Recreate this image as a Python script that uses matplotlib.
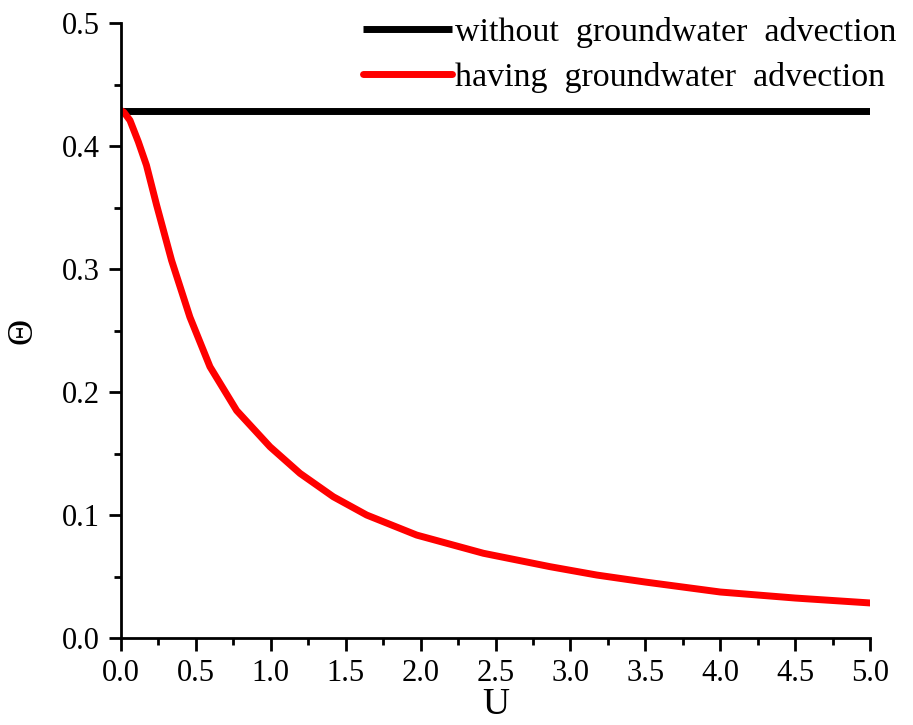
import matplotlib
matplotlib.use("Agg")
import matplotlib.pyplot as plt
from matplotlib.ticker import MultipleLocator

plt.rcParams['font.family'] = ['Liberation Serif', 'DejaVu Serif']

# values
u_flat = [0.0, 5.0]
theta_flat = [0.429, 0.429]

u_adv = [0.0, 0.02, 0.06, 0.116, 0.17, 0.238, 0.338, 0.46, 0.594, 0.772,
         0.995, 1.195, 1.417, 1.64, 1.974, 2.419, 2.864, 3.176, 3.5, 4.0, 4.5, 5.0]
theta_adv = [0.429, 0.4275, 0.421, 0.4035, 0.3845, 0.352, 0.307, 0.261, 0.2206, 0.185,
             0.1555, 0.1339, 0.1149, 0.100, 0.0837, 0.0689, 0.058, 0.0512, 0.0455, 0.0374, 0.0325, 0.0285]

fig = plt.figure(figsize=(9.13, 7.25), dpi=100)
ax = fig.add_axes([0.1325, 0.12, 0.8205, 0.848])

ax.plot(u_flat, theta_flat, color='black', lw=5, label='without  groundwater  advection',
        solid_capstyle='butt')
ax.plot(u_adv, theta_adv, color='red', lw=5, label='having  groundwater  advection',
        solid_capstyle='round', solid_joinstyle='round')

ax.set_xlim(0, 5)
ax.set_ylim(0, 0.5)
ax.xaxis.set_major_locator(MultipleLocator(0.5))
ax.xaxis.set_minor_locator(MultipleLocator(0.25))
ax.yaxis.set_major_locator(MultipleLocator(0.1))
ax.yaxis.set_minor_locator(MultipleLocator(0.05))
ax.xaxis.set_major_formatter(lambda v, p: f"{v:.1f}")
ax.yaxis.set_major_formatter(lambda v, p: f"{v:.1f}")

for s in ['top', 'right']:
    ax.spines[s].set_visible(False)
for s in ['left', 'bottom']:
    ax.spines[s].set_linewidth(2)

ax.tick_params(which='major', direction='out', length=9, width=2, labelsize=22, pad=6)
ax.tick_params(which='minor', direction='out', length=5, width=2)

ax.set_xlabel('U', fontsize=27, labelpad=0)
ax.set_ylabel('Θ', fontsize=26, labelpad=16)

leg = ax.legend(loc='upper right', bbox_to_anchor=(1.076, 1.06), frameon=False, fontsize=24.5,
                handlelength=2.6, handletextpad=0.1, labelspacing=0.4)

fig.savefig('out.png', dpi=100)
